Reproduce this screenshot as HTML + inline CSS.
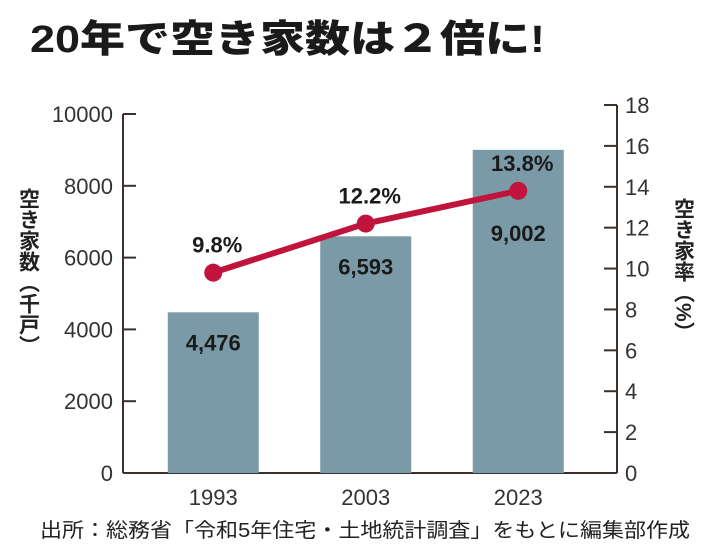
<!DOCTYPE html>
<html><head><meta charset="utf-8"><style>
body{margin:0;background:#fff;width:710px;height:555px;overflow:hidden;font-family:"Liberation Sans","Noto Sans CJK JP",sans-serif}
</style></head><body>
<svg width="710" height="555" font-family="Liberation Sans, Noto Sans CJK JP, sans-serif">
<text x="30" y="52" font-size="38" font-weight="900" fill="#1a1a1a" textLength="515" lengthAdjust="spacingAndGlyphs">20年で空き家数は２倍に!</text>
<g id="axes"></g>
<g id="bars"></g>
<g id="line"></g>
<text x="40" y="537" font-size="20" fill="#222" textLength="650" lengthAdjust="spacingAndGlyphs">出所：総務省「令和5年住宅・土地統計調査」をもとに編集部作成</text>
</svg>
<script>
const categories=["1993","2003","2023"];
const counts=[4476,6593,9002];
const countLabels=["4,476","6,593","9,002"];
const rates=[9.8,12.2,13.8];
const rateLabels=["9.8%","12.2%","13.8%"];
const leftTicks=[0,2000,4000,6000,8000,10000];
const rightTicks=[0,2,4,6,8,10,12,14,16,18];
const NS="http://www.w3.org/2000/svg";
const X0=123,X1=617,Y0=473;
const yL=v=>Y0-v/10000*(473-114);
const yR=v=>Y0-v/18*(473-105);
const xC=i=>137+(i+0.5)*152.5;
function mk(t,a,p){const e=document.createElementNS(NS,t);for(const k in a)e.setAttribute(k,a[k]);p.appendChild(e);return e;}
const ax=document.getElementById('axes'),bg=document.getElementById('bars'),lg=document.getElementById('line');
const C="#3b302b";
let e=mk('line',{x1:X0,y1:114,x2:X0,y2:Y0,stroke:C,'stroke-width':2},ax);

e=mk('line',{x1:X1,y1:105,x2:X1,y2:Y0,stroke:C,'stroke-width':2},ax);

e=mk('line',{x1:X0,y1:Y0,x2:X1,y2:Y0,stroke:C,'stroke-width':2},ax);

leftTicks.forEach(v=>{const y=yL(v);
 e=mk('line',{x1:X0,y1:y,x2:X0+13,y2:y,stroke:C,'stroke-width':2},ax);
 
 e=mk('text',{x:113,y:y+8,'text-anchor':'end','font-size':22,fill:'#333'},ax);e.textContent=v;
 });
rightTicks.forEach(v=>{const y=yR(v);
 e=mk('line',{x1:X1-13,y1:y,x2:X1,y2:y,stroke:C,'stroke-width':2},ax);
 
 e=mk('text',{x:625,y:y+8,'font-size':22,fill:'#333'},ax);e.textContent=v;
 });
e=mk('text',{x:28,y:188,'font-size':21,'font-weight':'bold',fill:'#222','writing-mode':'tb'},ax);e.textContent="空き家数（千戸）";

e=mk('text',{x:683,y:198,'font-size':21,'font-weight':'bold',fill:'#222','writing-mode':'tb'},ax);e.textContent="空き家率（%）";

categories.forEach((c,i)=>{
 const x=xC(i),y=yL(counts[i]);
 e=mk('rect',{x:x-45.5,y:y,width:91,height:Y0-y,fill:'#7a9aa8'},bg);
 
 const ly=Math.max(y+38,yR(rates[i])+50);
 e=mk('text',{x:x,y:ly,'text-anchor':'middle','font-size':22,'font-weight':'bold',fill:'#1a1a1a'},bg);e.textContent=countLabels[i];
 
 e=mk('text',{x:x,y:505,'text-anchor':'middle','font-size':22,fill:'#333'},ax);e.textContent=c;
 
});
e=mk('polyline',{points:rates.map((r,i)=>xC(i)+','+yR(r)).join(' '),fill:'none',stroke:'#c0143c','stroke-width':6},lg);

rates.forEach((r,i)=>{const x=xC(i),y=yR(r);
 e=mk('circle',{cx:x,cy:y,r:9,fill:'#c0143c'},lg);
 
 e=mk('text',{x:x+4,y:y-20,'text-anchor':'middle','font-size':22,'font-weight':'bold',fill:'#1a1a1a'},lg);e.textContent=rateLabels[i];
 
});
</script>
</body></html>
